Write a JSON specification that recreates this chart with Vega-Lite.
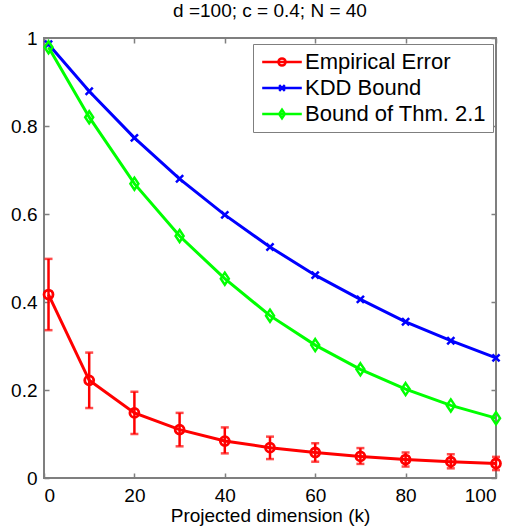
{
  "$schema": "https://vega.github.io/schema/vega-lite/v6.json",
  "width": 452,
  "height": 440,
  "autosize": "none",
  "padding": {"left": 44, "top": 38, "right": 16, "bottom": 51},
  "title": {"text": "d =100; c = 0.4; N = 40", "fontSize": 19, "fontWeight": "normal", "font": "Liberation Sans", "color": "black", "offset": 8},
  "config": {
    "view": {"stroke": "#7f7f7f", "strokeWidth": 2},
    "font": "Liberation Sans",
    "axis": {"grid": false, "domain": false, "tickColor": "#7f7f7f", "tickWidth": 1.5, "tickSize": -5, "labelFont": "Liberation Sans", "labelFontSize": 19, "labelColor": "black", "titleFont": "Liberation Sans", "titleFontSize": 19, "titleFontWeight": "normal", "titleColor": "black"}
  },
  "data": {"values": [
    {"k": 1, "series": "Empirical Error", "value": 0.417, "lo": 0.336, "hi": 0.498},
    {"k": 10, "series": "Empirical Error", "value": 0.222, "lo": 0.159, "hi": 0.285},
    {"k": 20, "series": "Empirical Error", "value": 0.148, "lo": 0.100, "hi": 0.196},
    {"k": 30, "series": "Empirical Error", "value": 0.110, "lo": 0.072, "hi": 0.148},
    {"k": 40, "series": "Empirical Error", "value": 0.084, "lo": 0.056, "hi": 0.115},
    {"k": 50, "series": "Empirical Error", "value": 0.069, "lo": 0.043, "hi": 0.094},
    {"k": 60, "series": "Empirical Error", "value": 0.058, "lo": 0.037, "hi": 0.079},
    {"k": 70, "series": "Empirical Error", "value": 0.049, "lo": 0.032, "hi": 0.068},
    {"k": 80, "series": "Empirical Error", "value": 0.042, "lo": 0.026, "hi": 0.058},
    {"k": 90, "series": "Empirical Error", "value": 0.037, "lo": 0.022, "hi": 0.054},
    {"k": 100, "series": "Empirical Error", "value": 0.033, "lo": 0.018, "hi": 0.048},
    {"k": 1, "series": "KDD Bound", "value": 0.986},
    {"k": 10, "series": "KDD Bound", "value": 0.879},
    {"k": 20, "series": "KDD Bound", "value": 0.773},
    {"k": 30, "series": "KDD Bound", "value": 0.680},
    {"k": 40, "series": "KDD Bound", "value": 0.598},
    {"k": 50, "series": "KDD Bound", "value": 0.525},
    {"k": 60, "series": "KDD Bound", "value": 0.461},
    {"k": 70, "series": "KDD Bound", "value": 0.406},
    {"k": 80, "series": "KDD Bound", "value": 0.355},
    {"k": 90, "series": "KDD Bound", "value": 0.312},
    {"k": 100, "series": "KDD Bound", "value": 0.273},
    {"k": 1, "series": "Bound of Thm. 2.1", "value": 0.979},
    {"k": 10, "series": "Bound of Thm. 2.1", "value": 0.820},
    {"k": 20, "series": "Bound of Thm. 2.1", "value": 0.669},
    {"k": 30, "series": "Bound of Thm. 2.1", "value": 0.550},
    {"k": 40, "series": "Bound of Thm. 2.1", "value": 0.453},
    {"k": 50, "series": "Bound of Thm. 2.1", "value": 0.369},
    {"k": 60, "series": "Bound of Thm. 2.1", "value": 0.302},
    {"k": 70, "series": "Bound of Thm. 2.1", "value": 0.247},
    {"k": 80, "series": "Bound of Thm. 2.1", "value": 0.202},
    {"k": 90, "series": "Bound of Thm. 2.1", "value": 0.165},
    {"k": 100, "series": "Bound of Thm. 2.1", "value": 0.136}
  ]},
  "layer": [
    {
      "transform": [{"filter": "datum.series === 'Empirical Error'"}],
      "mark": {"type": "errorbar", "ticks": {"size": 8, "thickness": 2.5}, "rule": {"strokeWidth": 2.5}, "color": "#ff0000"},
      "encoding": {
        "x": {"field": "k", "type": "quantitative", "scale": {"domain": [0, 100], "nice": false}, "axis": {"orient": "bottom", "values": [0, 20, 40, 60, 80, 100], "labelPadding": 13, "title": "Projected dimension (k)", "titlePadding": 1}},
        "y": {"field": "lo", "type": "quantitative", "scale": {"domain": [0, 1], "nice": false}, "axis": {"orient": "left", "values": [0, 0.2, 0.4, 0.6, 0.8, 1], "format": "~g", "labelPadding": 12, "title": null}},
        "y2": {"field": "hi"}
      }
    },
    {
      "mark": {"type": "line", "strokeWidth": 3},
      "encoding": {
        "x": {"field": "k", "type": "quantitative", "axis": {"orient": "top", "values": [0, 20, 40, 60, 80, 100], "labels": false, "title": null}},
        "y": {"field": "value", "type": "quantitative", "axis": {"orient": "right", "values": [0, 0.2, 0.4, 0.6, 0.8, 1], "labels": false, "title": null}},
        "color": {"field": "series", "type": "nominal", "scale": {"domain": ["Empirical Error", "KDD Bound", "Bound of Thm. 2.1"], "range": ["#ff0000", "#0000ff", "#00ff00"]}},
        "detail": {"field": "series"}
      }
    },
    {
      "mark": {"type": "point", "filled": false, "opacity": 0, "size": 50},
      "encoding": {
        "x": {"field": "k", "type": "quantitative", "axis": null},
        "y": {"field": "value", "type": "quantitative", "axis": null},
        "shape": {"field": "series", "type": "nominal", "scale": {"domain": ["Empirical Error", "KDD Bound", "Bound of Thm. 2.1"], "range": ["M1,0A1,1,0,1,1,-1,0A1,1,0,1,1,1,0M-5.6,0H5.6", "M-0.8,-0.8L0.8,0.8M-0.8,0.8L0.8,-0.8M-5.6,0H5.6", "M0,-1.2L0.8,0L0,1.2L-0.8,0ZM-5.6,0H5.6"]}},
        "color": {"field": "series", "type": "nominal",
          "legend": {
            "title": null, "orient": "none", "legendX": 209, "legendY": 6,
            "symbolSize": 50, "symbolStrokeWidth": 2.5, "symbolOpacity": 1, "symbolFillColor": "transparent", "symbolOffset": 11, "labelOffset": 12, "labelLimit": 400,
            "labelFontSize": 22, "labelFont": "Liberation Sans", "labelColor": "black", "rowPadding": 4,
            "padding": 7, "strokeColor": "#7f7f7f", "fillColor": "white"
          }
        }
      }
    },
    {
      "transform": [{"filter": "datum.series === 'Empirical Error'"}],
      "mark": {"type": "point", "filled": false, "strokeWidth": 2.8, "opacity": 1, "size": 80, "shape": "circle"},
      "encoding": {
        "x": {"field": "k", "type": "quantitative", "axis": null},
        "y": {"field": "value", "type": "quantitative", "axis": null},
        "color": {"field": "series", "type": "nominal"}
      }
    },
    {
      "transform": [{"filter": "datum.series === 'KDD Bound'"}],
      "mark": {"type": "point", "filled": false, "strokeWidth": 2.5, "opacity": 1, "size": 80, "shape": "M-0.8,-0.8L0.8,0.8M-0.8,0.8L0.8,-0.8"},
      "encoding": {
        "x": {"field": "k", "type": "quantitative", "axis": null},
        "y": {"field": "value", "type": "quantitative", "axis": null},
        "color": {"field": "series", "type": "nominal"}
      }
    },
    {
      "transform": [{"filter": "datum.series === 'Bound of Thm. 2.1'"}],
      "mark": {"type": "point", "filled": false, "strokeWidth": 2.5, "opacity": 1, "size": 100, "shape": "M0,-1.2L0.8,0L0,1.2L-0.8,0Z"},
      "encoding": {
        "x": {"field": "k", "type": "quantitative", "axis": null},
        "y": {"field": "value", "type": "quantitative", "axis": null},
        "color": {"field": "series", "type": "nominal"}
      }
    }
  ]
}
